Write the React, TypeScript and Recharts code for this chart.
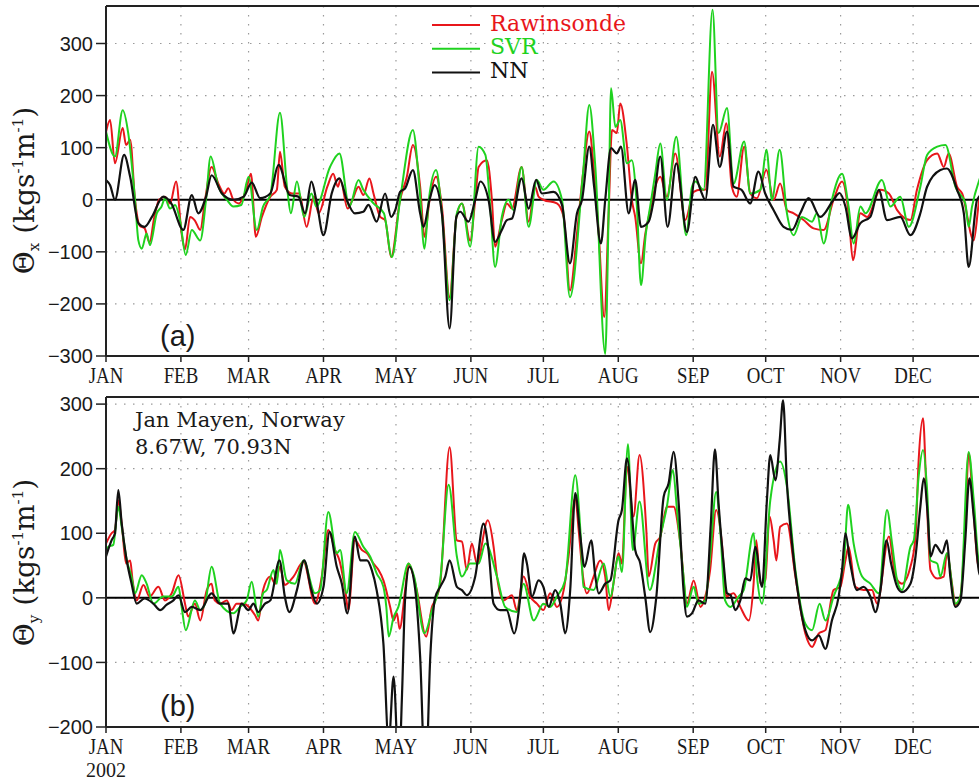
import React from 'react';
import { LineChart, Line, XAxis, YAxis, CartesianGrid, ReferenceLine, Legend } from 'recharts';

// month starts (day of year) and their labels
const monthStarts = [0, 31, 59, 90, 120, 151, 181, 212, 243, 273, 304, 334];
const monthLabels = ['JAN', 'FEB', 'MAR', 'APR', 'MAY', 'JUN', 'JUL', 'AUG', 'SEP', 'OCT', 'NOV', 'DEC'];
const yearLabel = '2002';

const ticksTop = [-300, -200, -100, 0, 100, 200, 300];
const ticksBottom = [-200, -100, 0, 100, 200, 300];

// panel (a): Theta_x, [day, value]
const rawinsondeX = [
  [0, 130], [1.7, 153], [3.7, 70], [6.9, 138], [8.3, 105], [10, 115], [12, 0], [14, -50], [16, -55], [18, -82],
  [20, -33], [22, 0], [24.4, 6], [26.5, -7], [29, 35], [31.3, -65], [32.7, -95], [34.8, -33], [36.8, -40], [39, -58],
  [41, 0], [43.7, 63], [46.5, 31], [49, 12], [50.6, 22], [52.7, 0], [55, -7], [58, 19], [60, 50], [62, -71],
  [64.5, -33], [68, 6], [70.7, 19], [72, 92], [74, 25], [77, 12], [80, 12], [83, -52], [86, 6], [88, -26],
  [91.6, 25], [94, 50], [96, 25], [97, 38], [100, -17], [102, 0], [104.5, 25], [106.5, 9], [109, 41], [110.7, 12],
  [113.5, -33], [115.5, -39], [118, -110], [121.7, 0], [124.5, 44], [127, 105], [130, 25], [131.8, -71], [133.9, 0], [136.6, 44],
  [139, -13], [142.2, -187], [145, -33], [147.3, -7], [150.7, -78], [152.8, 0], [154.2, 63], [157.6, 76], [159.7, 0], [161, -90],
  [163.8, -39], [165.9, -7], [168, -17], [172, 63], [174.9, -42], [177.6, 25], [179, 6], [181, 0], [186.6, -7], [189.4, -33],
  [192, -174], [194.9, -65], [197.4, 50], [200, 131], [201.8, 63], [203.9, -65], [206.2, -225], [208, -26], [209.4, 134], [211.4, 128],
  [212.8, 185], [215.6, 102], [217.6, 0], [219, -33], [221.4, -122], [223.2, -65], [225.2, -20], [227.3, 25], [229.4, 44], [232.1, 6],
  [235.6, 89], [239.7, -39], [243.2, 15], [246, 19], [248, 19], [250.8, 246], [254, 83], [256.7, 147], [259, 25], [261, 6],
  [264.1, 102], [266.6, 12], [269.4, 3], [273.3, 57], [276.3, 0], [279, 31], [281.8, -20], [284.6, -26], [288.7, -39], [292.8, -55],
  [297, -58], [301.1, 0], [304.6, 35], [307.3, -26], [309.1, -116], [312.2, -26], [315, -33], [320.5, 19], [324, 12], [327.4, -20],
  [332.9, -39], [335.6, 19], [339.8, 76], [344, 89], [346.7, 63], [348.7, 89], [352.2, 25], [354.3, 12], [359.1, -78], [361.4, 0],
  [365, 40],
];

const svrX = [
  [0, 131], [3.7, 83], [6.9, 172], [9.2, 128], [12, 0], [13.4, -78], [14.8, -94], [16.8, -65], [18.2, -87], [21, -26],
  [23, -13], [24.4, 3], [26.5, -17], [28.6, -10], [30.6, -39], [33, -106], [35.5, -58], [39, -78], [41.4, 0], [43.3, 83],
  [46.5, 25], [50, 0], [52.7, -13], [56, -10], [59, 44], [62.4, -58], [65, -13], [68, 9], [72, 167], [75, 20],
  [76.5, -26], [79, 35], [82, -33], [85, 12], [87, -13], [92.7, 63], [96.6, 89], [100.7, -13], [104.5, 38], [106.5, 19],
  [110.7, -7], [115, -26], [118.3, -110], [121.7, 0], [127, 134], [129.7, 25], [131.8, -94], [133.6, 0], [136.6, 57], [139, -26],
  [142.2, -193], [145.2, -26], [147.3, -7], [150.7, -90], [154.2, 102], [157, 86], [159, -13], [161, -129], [163.8, -33], [166.6, 0],
  [168.7, -20], [172, 63], [174.9, -52], [178.3, 38], [181, 19], [185.2, 35], [188.7, 0], [192, -187], [197.4, 50], [200, 182],
  [202.5, 63], [206.6, -296], [208, -26], [209, 214], [210.8, 140], [212.8, 153], [215.6, 70], [217.6, 76], [219.7, -13], [221.4, -164],
  [223.4, -65], [225.2, -13], [227.3, 50], [229.4, 108], [232.1, 0], [236, 121], [240.1, -68], [242.5, 25], [243.9, 35], [247.3, 19],
  [251, 365], [253.5, 128], [257, 176], [259.7, 31], [264.1, 112], [266.6, 12], [270.8, 19], [273.3, 96], [275.6, 0], [278.8, 96],
  [281.8, -26], [284.6, -68], [288, -33], [292.2, -42], [294.2, -26], [297, -84], [300.4, 0], [304.6, 50], [307.3, -13], [309.4, -84],
  [312.2, -13], [314.3, -26], [321.1, 38], [324.6, -13], [328.7, 6], [332.2, -52], [337, 25], [339.8, 86], [344, 102], [347.4, 105],
  [351.5, 25], [355.6, -7], [357, -52], [358.4, -13], [361.4, 38], [365, 70],
];

const nnX = [
  [0, 38], [1.7, 28], [3.7, 0], [7.5, 86], [10, 44], [13.4, -45], [16, -52], [19, -33], [23.7, 6], [27, -7],
  [32, -58], [35.5, 9], [38.2, -26], [41.4, 6], [43.7, 47], [48, 12], [52.7, 0], [57, 6], [60.3, 33], [63.8, 3],
  [68, 12], [71.4, 67], [76, 9], [79.6, 6], [82.4, -26], [85, 35], [87, 0], [90, -68], [93.4, 12], [96.6, 41],
  [99.6, 0], [103, -26], [106.5, -23], [108.6, -10], [112, -42], [115.5, 12], [118, -33], [119.7, -20], [121.7, 15], [123.8, 22],
  [127, 57], [130, -26], [131.4, -52], [133.9, 0], [136, 28], [139, -26], [142.2, -247], [145, -33], [146.6, -23], [150, -42],
  [152.8, 0], [154.9, 35], [158.3, 0], [161, -81], [163.8, -58], [165.9, -39], [168, -36], [172, 41], [174.9, -17], [178, 38],
  [180.4, 12], [185.2, 15], [188.7, -10], [192, -122], [194.9, -26], [197, 0], [200, 102], [202, 25], [204.8, -84], [206.6, 0],
  [209, 99], [211.4, 89], [213.1, 102], [216.3, -26], [219, 38], [221.4, -52], [224.6, -42], [226.7, 0], [229.4, 83], [232.4, -52],
  [236, 70], [240.4, -62], [243.9, 44], [246, 19], [248, 0], [251.2, 144], [254, 63], [257, 131], [259.7, 25], [263, 19],
  [266.6, -7], [270, 54], [272.8, 12], [276.3, -20], [280.4, -52], [283.9, -58], [287.3, -26], [290.8, 3], [295.6, -33], [301.1, 0],
  [303.6, 13], [306, -13], [308.7, -74], [312.2, -45], [316.3, -33], [319.8, 19], [323.2, -39], [328.7, -33], [332.9, -68], [337, -26],
  [339.8, 25], [345.3, 57], [348, 60], [352.2, 19], [355, -26], [357, -129], [360.5, 0], [365, 20],
];

// panel (b): Theta_y, [day, value]
const rawinsondeY = [
  [0, 84], [2.3, 100], [3.7, 105], [5.1, 151], [6.5, 115], [8.3, 53], [10, 58], [11, 27], [12.7, -4], [15.5, 20],
  [18, 2], [21.7, 17], [24.4, -4], [27.2, 7], [30, 35], [32.7, -9], [34, -29], [36.8, -9], [39, -35], [41.7, 12],
  [43.7, 22], [45, -4], [47.2, -9], [50, -4], [52, -19], [54, -9], [57, -9], [61.7, -27], [63, -35], [65, 12],
  [68, 33], [70, 22], [72, 48], [74, 20], [77.6, 33], [81.7, 56], [86.5, -9], [89.3, 33], [92, 105], [94.8, 74],
  [96.6, 58], [99, 12], [100.3, -19], [103, 89], [105.9, 74], [108, 69], [110.7, 53], [112.8, 43], [114.8, 27], [117.6, -14],
  [119, -35], [120.4, -24], [121.5, -48], [123.8, 12], [125.2, 53], [127.3, 33], [128.6, 12], [132.5, -60], [134.9, -14], [136.2, -4],
  [138.3, 22], [142.2, 233], [145.2, 89], [147.3, 87], [149.3, 43], [151.4, 84], [153.5, 53], [158, 120], [160.4, 79], [161.8, 33],
  [164.5, -4], [168, 4], [170, -19], [172.8, 33], [175.6, 2], [178.3, -9], [181, -19], [183.8, 7], [186.6, -14], [189.4, 12],
  [191.4, 64], [194.2, 155], [195.6, 105], [197.4, 33], [199, 7], [201.8, 33], [204.5, 58], [206.6, 33], [208, -19], [210, 22],
  [212.1, 69], [213.5, 53], [215.6, 203], [218.3, 126], [220.8, 221], [223.6, 105], [224.6, 33], [227.3, 84], [229.4, 95], [232.1, 141],
  [234.9, 141], [237.7, 84], [240.4, -9], [243.2, 27], [246, -14], [248, 2], [250, 43], [252.5, 136], [254.9, 84], [256.7, 2],
  [259.7, 7], [262.5, -14], [266, -35], [268, 22], [269.1, 89], [270.8, 22], [272.8, 27], [274.6, 126], [276.3, 89], [277.4, 58],
  [279, 110], [281.8, 115], [285.3, 33], [289.4, -55], [292.2, -76], [295, -55], [297.7, -50], [301.1, 12], [303.9, 17], [306, 58],
  [307.3, 79], [310.1, 17], [313.5, 12], [317, 12], [319.1, -9], [324, 95], [326.7, 33], [329.4, 22], [332.9, 48], [335, 95],
  [336.3, 213], [338.1, 278], [339.5, 167], [341.2, 43], [344, 30], [346.7, 33], [348, 69], [350.1, 22], [351.5, -11], [353.6, 2],
  [355.6, 115], [357, 224], [358.8, 146], [360.8, 53], [365, 20],
];

const svrY = [
  [0, 75], [1, 79], [3, 82], [5.1, 141], [6.5, 110], [8.5, 60], [10.6, 32], [12, 7], [14.8, 35], [16.8, 22],
  [19.6, -9], [23.7, 2], [27.2, 2], [30, 17], [31.3, -14], [33, -50], [36.8, -4], [39, -19], [41, -9], [43.7, 48],
  [47.2, -9], [52.7, -24], [55.5, -14], [58.2, -4], [60.3, 25], [63, -29], [65, 7], [66.5, 12], [69.3, 43], [70.7, 22],
  [72, 74], [74.8, 27], [78.2, 22], [81.7, 58], [86.5, 7], [88.6, 12], [92, 133], [95.5, 69], [96.9, 74], [99.6, 7],
  [103, 102], [106.5, 79], [109.3, 64], [112, 38], [114.8, 17], [116, -14], [117, -60], [119, -30], [121, -14], [125.2, 53],
  [127.5, 33], [131.8, -55], [134.9, -19], [138.3, 27], [141.8, 175], [145.2, 64], [147.3, 33], [150.7, 53], [154.2, 53], [157, 84],
  [161.8, 33], [165.2, -14], [170, -22], [172.8, 22], [177, -35], [181, -9], [183.8, -14], [186.6, 2], [190, 27], [194.2, 190],
  [196.3, 105], [197.6, 17], [201.8, 12], [206, 53], [208.7, 2], [212.1, 64], [213.5, 40], [216, 238], [218, 74], [220.8, 149],
  [225, 12], [229.4, 95], [232.1, 141], [234.6, 198], [236.3, 136], [239, 33], [240.4, -14], [243.2, 17], [245.2, -9], [248, -4],
  [250, 64], [252.5, 164], [254.2, 105], [256.2, -4], [258.4, -14], [261.8, 2], [263.9, 12], [268, 100], [269.4, 33], [271.5, -9],
  [274.9, 151], [279, 211], [281.8, 172], [285.3, 43], [289.4, -40], [292.2, -50], [295.3, -9], [297.7, -35], [301.1, 2], [305.3, 53],
  [307.1, 144], [309.4, 84], [312.9, 33], [316.3, 22], [319.8, 7], [323.2, 136], [325.3, 84], [327.4, 27], [329.4, 12], [332.9, 79],
  [334.3, 89], [336.3, 188], [338.1, 229], [339.8, 167], [341.2, 58], [344, 53], [345.3, 33], [348, 69], [351.5, -9], [353.6, 2],
  [357, 226], [359.1, 151], [361.4, 48], [365, 20],
];

const nnY = [
  [0, 64], [2.3, 89], [3.7, 100], [5.1, 167], [6.5, 115], [8.3, 64], [10.6, 22], [12.7, -9], [16, -1], [19.6, -9],
  [22.4, -19], [25, -11], [27.9, -4], [30, 4], [32.7, -22], [35.5, -14], [39, -19], [43.7, 7], [47.2, -9], [50.6, -9],
  [52.7, -55], [56.2, -9], [58.9, -19], [61, -9], [63, -22], [65.8, -9], [68, -4], [71.8, 58], [74, 2], [75.9, -22],
  [79, 12], [82, 58], [85, 12], [87.2, -9], [90, 17], [92.5, 102], [95.5, 48], [97.6, 22], [99.9, -24], [103, 95],
  [105.2, 58], [108, 58], [110, 43], [112, 12], [114.8, -71], [117, -225], [119, -122], [121.2, -270], [122.5, -150], [123.8, 0],
  [125.6, 48], [128, 12], [130, -91], [132.2, -290], [134.2, -91], [136.2, 0], [138.3, 17], [140.4, 33], [142.2, 58], [145.2, 17],
  [147.3, 12], [149.3, 4], [152.8, 33], [156.2, 115], [158.3, 74], [160.4, -9], [163.1, -19], [165.8, -19], [168.9, -55], [171.4, 0],
  [173, 69], [174.2, 53], [176.3, 2], [179, 27], [181, 17], [183.2, -14], [185.9, 12], [188, -9], [190, -55], [192.1, 12],
  [194.2, 162], [196.3, 95], [198, 48], [200.8, 89], [202.5, 33], [203.9, 7], [206.6, 22], [208.7, 27], [212.1, 120], [213.5, 136],
  [215.6, 216], [219, 74], [221.1, 53], [223.2, 0], [225.2, -53], [227.7, 0], [230.8, 157], [232.8, 177], [234.9, 226], [237, 146],
  [239, 12], [240.4, -29], [242.5, -24], [245.2, -4], [248, -9], [250.3, 115], [252, 230], [253.5, 146], [255.6, 53], [257, 7],
  [258.5, 4], [260.4, -19], [262.5, -4], [264.6, 30], [266.6, 27], [268.7, 79], [271.5, 17], [273.5, 151], [274.9, 221], [277, 182],
  [278.8, 244], [280.2, 306], [281.8, 177], [283.9, 84], [286.6, 2], [289.4, -50], [292.2, -66], [295, -58], [297.7, -79], [300.4, -35],
  [303.2, 2], [304.6, 43], [306, 100], [308, 53], [310.8, 12], [313.5, 17], [316.3, 2], [318.4, -22], [320.5, 12], [323, 89],
  [324.9, 53], [327.4, 17], [329.4, 9], [332.9, 22], [335, 64], [337, 141], [338.4, 185], [340.1, 126], [341.2, 64], [343.2, 82],
  [346, 69], [348, 89], [349.4, 33], [351.5, -14], [353.6, -4], [355.6, 89], [357.3, 185], [359.1, 126], [361.4, 38], [365, 20],
];

const RED = '#e8161b';
const GREEN = '#1fd21f';
const BLACK = '#111';
const INK = '#1a1a1a';
const FRAME = '#222';
const SANS = "'Liberation Sans', Arial, sans-serif";
const SERIF = "'Liberation Serif', 'Times New Roman', serif";
const DSERIF = "'DejaVu Serif', serif";

const series = [
  { name: 'Rawinsonde', color: RED },
  { name: 'SVR', color: GREEN },
  { name: 'NN', color: BLACK },
];

const toPts = (arr: number[][]) => arr.map(([d, v]) => ({ d, v }));

const fmtY = (v: number) => (v < 0 ? `\u2212${-v}` : `${v}`);

const MonthTick = (props: any) => {
  const { x, y, payload, withYear } = props;
  const i = monthStarts.indexOf(payload.value);
  return (
    <g transform={`translate(${x},${y})`}>
      <text x={0} y={0} dy="0.71em" textAnchor="middle" fontFamily={SERIF} fontSize={23} fill={INK} transform="scale(0.82,1)">
        {monthLabels[i]}
      </text>
      {withYear && i === 0 && (
        <text x={0} y={39} textAnchor="middle" fontFamily={SERIF} fontSize={20} fill={INK}>
          {yearLabel}
        </text>
      )}
    </g>
  );
};

const LegendBox = () => (
  <svg width={220} height={80}>
    {series.map((s, i) => (
      <g key={s.name}>
        <line x1={4} x2={52} y1={15 + i * 23.8} y2={15 + i * 23.8} stroke={s.color} strokeWidth={2} />
        <text x={62} y={20.7 + i * 23.5} fontFamily={DSERIF} fontSize={22} fill={s.color}>
          {s.name}
        </text>
      </g>
    ))}
  </svg>
);

const AxisTitle = ({ cx, cy, sub }: { cx: number; cy: number; sub: string }) => (
  <text x={cx} y={cy} transform={`rotate(-90 ${cx} ${cy})`} textAnchor="middle" fontFamily={DSERIF} fontSize={28} fill={INK}>
    Θ<tspan fontSize={15} dy={5}>{sub}</tspan>
    <tspan dy={-5}> (kgs</tspan>
    <tspan fontSize={15} dy={-11}>-1</tspan>
    <tspan dy={11}>m</tspan>
    <tspan fontSize={15} dy={-11}>-1</tspan>
    <tspan dy={11}>)</tspan>
  </text>
);

type PanelProps = {
  raw: number[][];
  svr: number[][];
  nn: number[][];
  domain: [number, number];
  ticks: number[];
  plotHeight: number;
  xHeight: number;
  withYear?: boolean;
  legend?: boolean;
};

const Panel = ({ raw, svr, nn, domain, ticks, plotHeight, xHeight, withYear, legend }: PanelProps) => (
  <LineChart width={998} height={6 + plotHeight + xHeight} margin={{ top: 6, right: 10, bottom: 0, left: 0 }}>
    <CartesianGrid strokeDasharray="1.5 7.5" stroke="#9a9a9a" strokeWidth={1.2} />
    <XAxis
      type="number"
      dataKey="d"
      domain={[0, 365]}
      ticks={monthStarts}
      allowDataOverflow
      interval={0}
      height={xHeight}
      tickSize={6}
      tickMargin={5}
      axisLine={{ stroke: FRAME, strokeWidth: 2 }}
      tickLine={{ stroke: FRAME, strokeWidth: 1.5 }}
      tick={(p: any) => <MonthTick {...p} withYear={withYear} />}
    />
    <YAxis
      type="number"
      domain={domain}
      ticks={ticks}
      allowDataOverflow
      interval={0}
      width={106}
      tickSize={10}
      tickMargin={3}
      tickFormatter={fmtY}
      tick={{ fontFamily: SANS, fontSize: 20, fill: INK }}
      axisLine={{ stroke: FRAME, strokeWidth: 2 }}
      tickLine={{ stroke: FRAME, strokeWidth: 1.5 }}
    />
    <ReferenceLine y={domain[1]} stroke={FRAME} strokeWidth={2} />
    <ReferenceLine y={0} stroke="#000" strokeWidth={2} />
    <Line data={toPts(raw)} dataKey="v" name="Rawinsonde" type="monotone" stroke={RED} strokeWidth={2} dot={false} activeDot={false} isAnimationActive={false} />
    <Line data={toPts(svr)} dataKey="v" name="SVR" type="monotone" stroke={GREEN} strokeWidth={2} dot={false} activeDot={false} isAnimationActive={false} />
    <Line data={toPts(nn)} dataKey="v" name="NN" type="monotone" stroke={BLACK} strokeWidth={2.2} dot={false} activeDot={false} isAnimationActive={false} />
    {legend && (
      <Legend
        layout="vertical"
        align="center"
        verticalAlign="middle"
        wrapperStyle={{ left: 428, top: 10, width: 220, height: 80 }}
        content={() => <LegendBox />}
      />
    )}
  </LineChart>
);

export default function App() {
  return (
    <div style={{ position: 'fixed', left: 0, top: 0, width: 979, height: 781, overflow: 'hidden', background: '#fff' }}>
      <div style={{ position: 'absolute', left: 0, top: 0 }}>
        <Panel raw={rawinsondeX} svr={svrX} nn={nnX} domain={[-300, 372]} ticks={ticksTop} plotHeight={350} xHeight={40} legend />
      </div>
      <div style={{ position: 'absolute', left: 0, top: 391 }}>
        <Panel raw={rawinsondeY} svr={svrY} nn={nnY} domain={[-200, 311]} ticks={ticksBottom} plotHeight={330} xHeight={56} withYear />
      </div>
      <svg width={979} height={781} style={{ position: 'absolute', left: 0, top: 0, pointerEvents: 'none' }}>
        <AxisTitle cx={34} cy={190.5} sub="x" />
        <AxisTitle cx={34} cy={562.5} sub="y" />
        <text x={160} y={345.5} fontFamily={SANS} fontSize={29} fill={INK}>(a)</text>
        <text x={160} y={715.5} fontFamily={SANS} fontSize={29} fill={INK}>(b)</text>
        <text x={135} y={427} fontFamily={DSERIF} fontSize={21} fill={INK}>Jan Mayen, Norway</text>
        <text x={135} y={454} fontFamily={DSERIF} fontSize={21} fill={INK}>8.67W, 70.93N</text>
      </svg>
    </div>
  );
}
